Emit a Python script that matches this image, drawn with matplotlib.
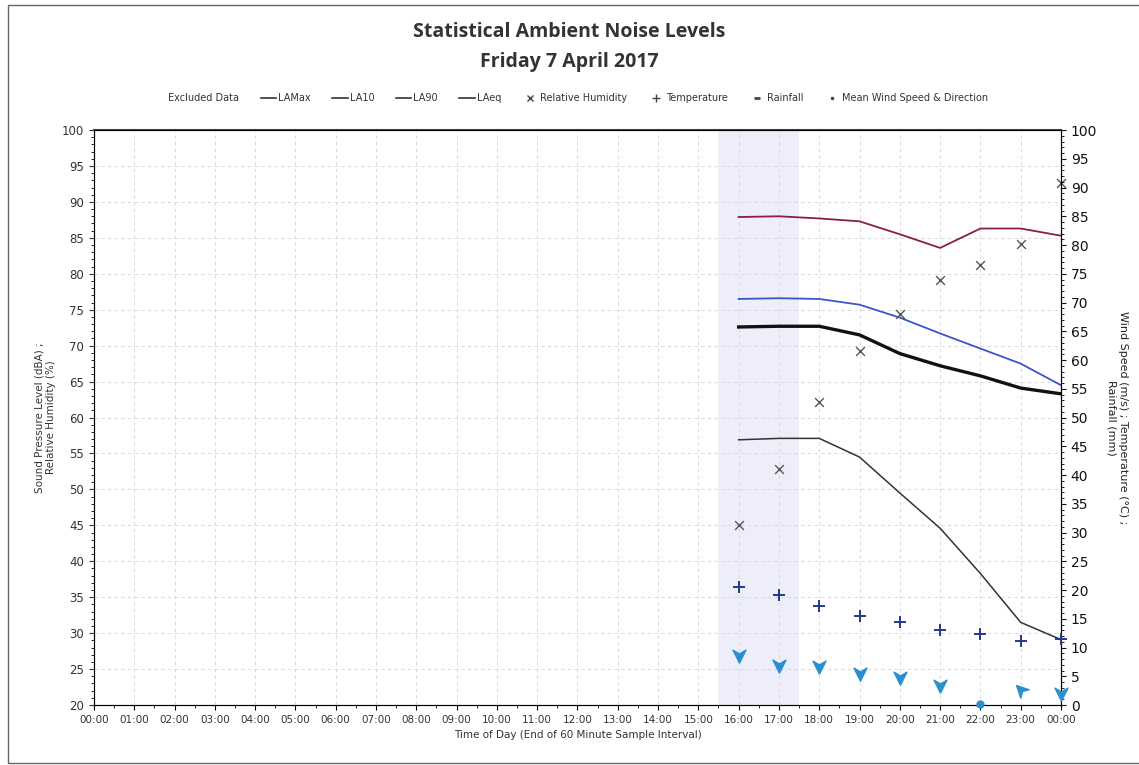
import numpy as np
import matplotlib
matplotlib.use("Agg")
import matplotlib.pyplot as plt
from matplotlib.lines import Line2D
from matplotlib.path import Path
from matplotlib.patches import Rectangle

# hours (end of interval) with data, 24 = midnight
hours = [16, 17, 18, 19, 20, 21, 22, 23, 24]
tick_labels = ["%02d:00" % (h % 24) for h in range(25)]

# noise levels (dBA)
la_max = [87.9, 88.0, 87.7, 87.3, 85.5, 83.6, 86.3, 86.3, 85.3]
la10 = [76.5, 76.6, 76.5, 75.7, 73.9, 71.7, 69.6, 67.5, 64.5]
la90 = [56.9, 57.1, 57.1, 54.5, 49.5, 44.6, 38.3, 31.5, 29.1]
la_eq = [72.6, 72.7, 72.7, 71.5, 68.9, 67.2, 65.8, 64.1, 63.3]
humidity = [45.0, 52.9, 62.1, 69.3, 74.4, 79.1, 81.2, 84.2, 92.6]

# right axis values
temperature = [20.6, 19.2, 17.2, 15.4, 14.5, 13.0, 12.3, 11.2, 11.5]
wind_speed = [8.7, 7.0, 6.8, 5.6, 4.9, 3.5, 0.2, 2.6, 2.1]
# arrow pointing angle (degrees, counter-clockwise from +x), None = calm
wind_dir = [270, 270, 270, 270, 270, 270, None, 135, 270]


def arrow_marker(angle):
    # arrowhead pointing along +x, then rotated
    pts = np.array([(1.0, 0.0), (-0.7, 0.85), (-0.2, 0.0), (-0.7, -0.85), (1.0, 0.0)])
    t = np.radians(angle)
    rot = np.array([[np.cos(t), -np.sin(t)], [np.sin(t), np.cos(t)]])
    pts = pts @ rot.T
    return Path(pts, [Path.MOVETO, Path.LINETO, Path.LINETO, Path.LINETO, Path.CLOSEPOLY])


fig = plt.figure(figsize=(11.39, 7.65), dpi=100)
fig.patches.append(Rectangle((0.007, 0.003), 0.995, 0.99, transform=fig.transFigure,
                             fill=False, edgecolor="#666666", linewidth=1.0))

ax = fig.add_axes([0.0825, 0.0784, 0.849, 0.7516])
ax2 = ax.twinx()

ax.axvspan(15.5, 17.5, color="#e6e8f8", alpha=0.7, linewidth=0)

ax.plot(hours, la_max, color="#8a1f45", lw=1.3)
ax.plot(hours, la10, color="#3a55c8", lw=1.3)
ax.plot(hours, la90, color="#333333", lw=1.1)
ax.plot(hours, la_eq, color="#111111", lw=2.4)
ax.scatter(hours, humidity, marker="x", s=40, color="#555555", linewidths=1.0,
           zorder=4, clip_on=False)

ax2.scatter(hours, temperature, marker="+", s=70, color="#203a8a", linewidths=1.4,
            zorder=4, clip_on=False)

# wind arrows
for h, ws, d in zip(hours, wind_speed, wind_dir):
    if d is None:
        ax2.plot(h, ws, marker="o", ms=5, color="#2a8fcf", zorder=5, clip_on=False)
    else:
        ax2.plot(h, ws, marker=arrow_marker(d), ms=11, color="#2a8fcf", zorder=5, clip_on=False)

ax.set_xlim(0, 24)
ax.set_ylim(20, 100)
ax2.set_ylim(0, 100)
ax.set_xticks(range(25))
ax.set_xticklabels(tick_labels, fontsize=7.5, color="#333333")
ax.set_xticks(np.arange(0.5, 24, 1), minor=True)
ax.set_yticks(range(20, 101, 5))
ax.set_yticks(range(20, 101, 1), minor=True)
ax2.set_yticks(range(0, 101, 5))
ax2.set_yticks(range(0, 101, 1), minor=True)
ax.tick_params(axis="y", labelsize=8.5, colors="#333333")
ax2.tick_params(axis="y", labelsize=10, colors="#111111")
ax.grid(True, which="major", color="#d4d4d4", linestyle=(0, (4, 4)), linewidth=0.6)
for side in ["top", "left", "bottom"]:
    ax.spines[side].set_color("#444444")
ax.spines["top"].set_linewidth(1.5)

ax.set_xlabel("Time of Day (End of 60 Minute Sample Interval)", fontsize=7.5, color="#333333")
ax.set_ylabel("Sound Pressure Level (dBA) ;\nRelative Humidity (%)", fontsize=7.5, color="#333333")
ax2.set_ylabel("Wind Speed (m/s) ; Temperature (\u00b0C) ;\nRainfall (mm)", fontsize=8,
               color="#222222", rotation=270, labelpad=22)

fig.text(0.5, 0.952, "Statistical Ambient Noise Levels", ha="center", fontsize=14,
         fontweight="bold", color="#333333", family="Open Sans")
fig.text(0.5, 0.912, "Friday 7 April 2017", ha="center", fontsize=14,
         fontweight="bold", color="#333333", family="Open Sans")

handles = [
    Line2D([], [], linestyle="none"),
    Line2D([], [], color="#333333", lw=1.2),
    Line2D([], [], color="#333333", lw=1.2),
    Line2D([], [], color="#333333", lw=1.2),
    Line2D([], [], color="#333333", lw=1.2),
    Line2D([], [], linestyle="none", marker="x", color="#444444", ms=5),
    Line2D([], [], linestyle="none", marker="+", color="#444444", ms=6),
    Line2D([], [], linestyle="none", marker="_", color="#444444", ms=5, mew=2),
    Line2D([], [], linestyle="none", marker=".", color="#444444", ms=3),
]
names = ["Excluded Data", "LAMax", "LA10", "LA90", "LAeq", "Relative Humidity",
         "Temperature", "Rainfall", "Mean Wind Speed & Direction"]
fig.legend(handles, names, loc="center", bbox_to_anchor=(0.5, 0.872), ncol=9, frameon=False,
           fontsize=7, handlelength=1.6, handletextpad=0.2, columnspacing=2.2,
           labelcolor="#333333")

fig.savefig("out.png", dpi=100)
